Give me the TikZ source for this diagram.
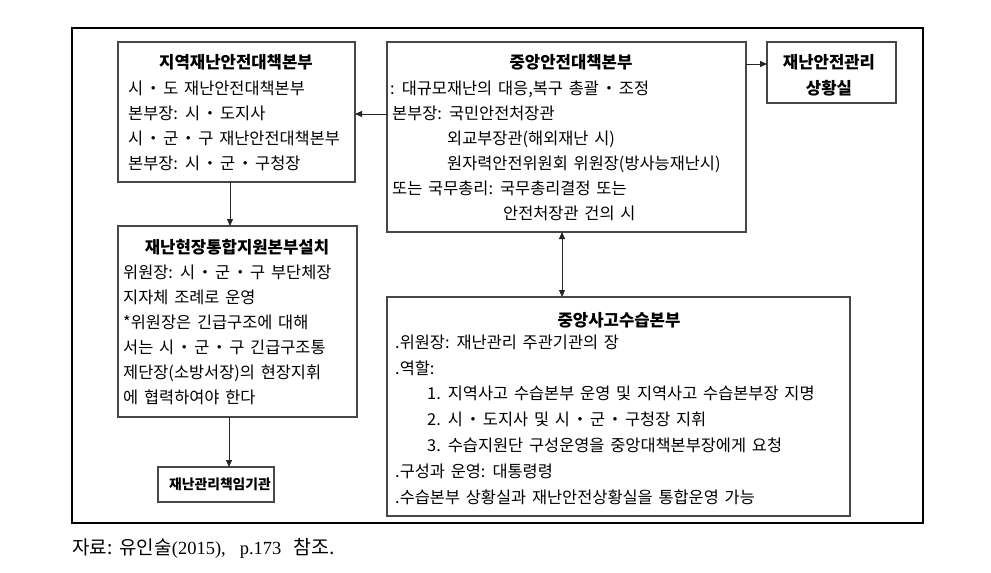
\documentclass[tikz,border=0pt]{standalone}
\usepackage{fontspec}
\setmainfont{Noto Sans CJK KR}
\newfontfamily\capser{Liberation Serif}
\newfontfamily\capkr{Noto Sans CJK KR}
\usetikzlibrary{arrows.meta}
\newcommand{\md}{\hspace{1.8pt}・\hspace{1.8pt}}
\newcommand{\wsp}{\spaceskip 5.8pt\relax}
\begin{document}
\begin{tikzpicture}[x=1pt,y=-1pt,
  frame/.style={draw=black,line width=1.2pt},
  box/.style={draw=black!72,line width=1.3pt,anchor=north west,inner sep=0pt,outer sep=0pt},
  txt/.style={anchor=west,inner sep=0pt,font={\fontsize{16.4}{18}\selectfont\wsp},text height=12pt,text depth=0pt},
  ttl/.style={anchor=center,inner sep=0pt,font={\fontsize{16.7}{18}\selectfont\bfseries\wsp},text height=12pt,text depth=0pt},
  arr/.style={line width=1pt,draw=black!85,-{Triangle[length=7pt,width=6pt]}},
  darr/.style={line width=1pt,draw=black!85,{Triangle[length=7pt,width=6pt]}-{Triangle[length=7pt,width=6pt]}}
]
\useasboundingbox (0,0) rectangle (991,573);
\draw[frame] (72,28) rectangle (923,523);

% boxes
\node[box,minimum width=237pt,minimum height=140pt] (b1) at (118,42) {};
\node[box,minimum width=359pt,minimum height=190pt] (c) at (387,42) {};
\node[box,minimum width=129pt,minimum height=61pt] (r) at (767,42) {};
\node[box,minimum width=239pt,minimum height=191pt] (b2) at (118,226) {};
\node[box,minimum width=463pt,minimum height=219pt] (s) at (387,297) {};
\node[box,minimum width=116pt,minimum height=35pt] (b3) at (158,467) {};

% b1 text
\node[ttl] (b1t) at (236,62) {지역재난안전대책본부};
\node[txt] (b1a) at (128,88) {시\md 도 재난안전대책본부};
\node[txt] (b1b) at (128,113) {본부장: 시\md 도지사};
\node[txt] (b1c) at (128,138) {시\md 군\md 구 재난안전대책본부};
\node[txt] (b1d) at (128,163) {본부장: 시\md 군\md 구청장};

% c text
\node[ttl] (ct) at (571,62) {중앙안전대책본부};
\node[txt] (ca) at (390,88) {: 대규모재난의 대응,복구 총괄\md 조정};
\node[txt] (cb) at (392,113) {본부장: 국민안전처장관};
\node[txt] (cc) at (447,138) {외교부장관(해외재난 시)};
\node[txt] (cd) at (447,163) {원자력안전위원회 위원장(방사능재난시)};
\node[txt] (ce) at (392,188) {또는 국무총리: 국무총리결정 또는};
\node[txt] (cf) at (503,213) {안전처장관 건의 시};

% r text
\node[ttl] (rt1) at (829,62) {재난안전관리};
\node[ttl] (rt2) at (829,88) {상황실};

% b2 text
\node[ttl] (b2t) at (237,247) {재난현장통합지원본부설치};
\node[txt] (b2a) at (123,272) {위원장: 시\md 군\md 구 부단체장};
\node[txt] (b2b) at (123,297) {지자체 조례로 운영};
\node[txt] (b2c) at (123,322) {*위원장은 긴급구조에 대해};
\node[txt] (b2d) at (123,347) {서는 시\md 군\md 구 긴급구조통};
\node[txt] (b2e) at (123,372) {제단장(소방서장)의 현장지휘};
\node[txt] (b2f) at (123,397) {에 협력하여야 한다};

% s text
\node[ttl] (st) at (619,320) {중앙사고수습본부};
\node[txt] (sa) at (395,342) {.위원장: 재난관리 주관기관의 장};
\node[txt] (sb) at (395,368) {.역할:};
\node[txt] (sc) at (427,393) {1. 지역사고 수습본부 운영 및 지역사고 수습본부장 지명};
\node[txt] (sd) at (427,419) {2. 시\md 도지사 및 시\md 군\md 구청장 지휘};
\node[txt] (se) at (427,445) {3. 수습지원단 구성운영을 중앙대책본부장에게 요청};
\node[txt] (sf) at (395,471) {.구성과 운영: 대통령령};
\node[txt] (sg) at (395,497) {.수습본부 상황실과 재난안전상황실을 통합운영 가능};

% b3 text
\node[ttl,font={\fontsize{13.8}{16}\selectfont\bfseries},text height=10pt] (b3t) at (220,484) {재난관리책임기관};

% caption
\node[anchor=west,inner sep=0pt,text height=13pt,text depth=0pt] (cap) at (72,548)
  {{\capkr\fontsize{19}{20}\selectfont 자료:}\hspace{7pt}{\capkr\fontsize{19}{20}\selectfont 유인술}{\capser\fontsize{18.5}{20}\selectfont (2015),}\hspace{14pt}{\capser\fontsize{18.5}{20}\selectfont p.173}\hspace{12pt}{\capkr\fontsize{19.5}{20}\selectfont 참조.}};

% connectors
\coordinate (y1) at (0,114);
\coordinate (y2) at (0,64);
\coordinate (x1) at (230,0);
\coordinate (x2) at (229,0);
\coordinate (x3) at (562,0);
\draw[arr] (c.west |- y1) -- (b1.east |- y1);
\draw[arr] (c.east |- y2) -- (r.west |- y2);
\draw[arr] (b1.south -| x1) -- (b2.north -| x1);
\draw[arr] (b2.south -| x2) -- (b3.north -| x2);
\draw[darr] (c.south -| x3) -- (s.north -| x3);
\end{tikzpicture}
\end{document}
